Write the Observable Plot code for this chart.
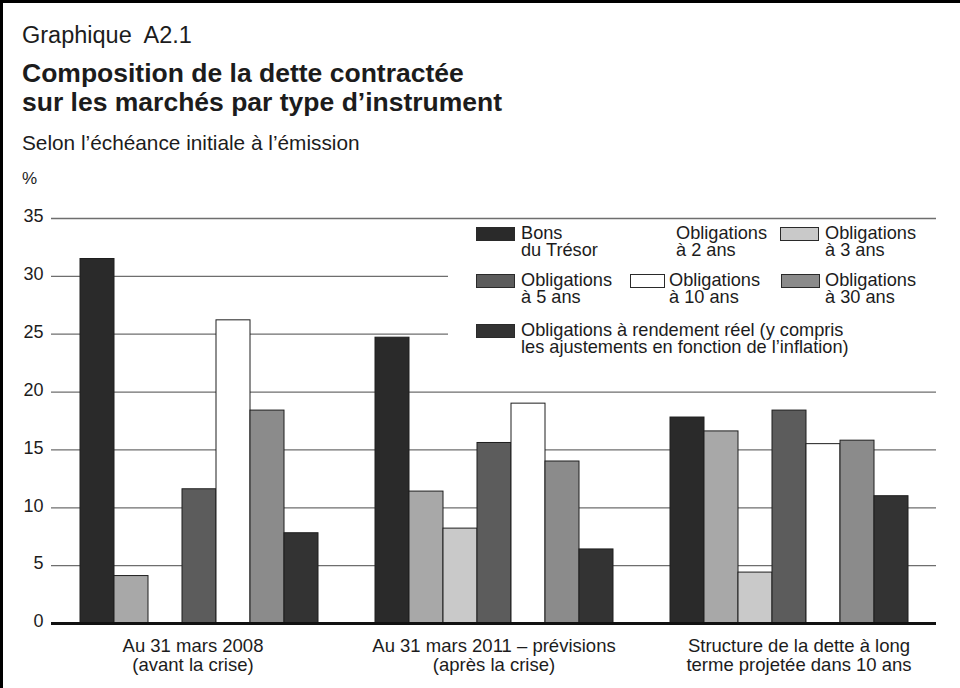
<!DOCTYPE html>
<html lang="fr">
<head>
<meta charset="utf-8">
<script src="https://cdn.jsdelivr.net/npm/d3@7"></script>
<script src="https://cdn.jsdelivr.net/npm/@observablehq/plot@0.6"></script>
<style>
  html, body { margin: 0; padding: 0; background: #fff; }
  body { width: 960px; height: 688px; position: relative; overflow: hidden;
         font-family: "Liberation Sans", Arial, Helvetica, sans-serif; color: #1c1c1c; }
  .frame { position: absolute; left: 0; top: 0; width: 960px; height: 688px;
           border-left: 3px solid #000; border-top: 3px solid #000; box-sizing: border-box; pointer-events: none; z-index: 5; }
  .t { position: absolute; left: 22px; white-space: pre; line-height: 1; }
  #chart { position: absolute; left: 0; top: 195px; }
  #legend { position: absolute; left: 448px; top: 222px; width: 492px; height: 162px; background: #fff; z-index: 3; }
  .sw { position: absolute; height: 14px; border: 1px solid #2a2a2a; box-sizing: border-box; }
  .lt { position: absolute; white-space: pre; font-size: 18.2px; line-height: 17px; color: #1c1c1c; }
</style>
</head>
<body>
<div class="frame"></div>
<div class="t" style="top:24px;font-size:23.5px;">Graphique  A2.1</div>
<div class="t" style="top:60px;font-size:26.5px;font-weight:bold;">Composition de la dette contractée</div>
<div class="t" style="top:89px;font-size:26.5px;font-weight:bold;">sur les marchés par type d’instrument</div>
<div class="t" style="top:133px;font-size:20.8px;">Selon l’échéance initiale à l’émission</div>
<div class="t" style="top:170px;font-size:17px;">%</div>
<div id="chart"></div>
<div id="legend"></div>
<script>
// ---- data ----
const groups = [
  "Au 31 mars 2008\n(avant la crise)",
  "Au 31 mars 2011 – prévisions\n(après la crise)",
  "Structure de la dette à long\nterme projetée dans 10 ans"
];
const series = [
  "Bons du Trésor",
  "Obligations à 2 ans",
  "Obligations à 3 ans",
  "Obligations à 5 ans",
  "Obligations à 10 ans",
  "Obligations à 30 ans",
  "Obligations à rendement réel"
];
const legendLabels = [
  "Bons\ndu Trésor",
  "Obligations\nà 2 ans",
  "Obligations\nà 3 ans",
  "Obligations\nà 5 ans",
  "Obligations\nà 10 ans",
  "Obligations\nà 30 ans",
  "Obligations à rendement réel (y compris\nles ajustements en fonction de l’inflation)"
];
const bonsTresor   = [31.5, 24.7, 17.8];
const oblig2ans    = [4.1, 11.4, 16.6];
const oblig3ans    = [null, 8.2, 4.4];
const oblig5ans    = [11.6, 15.6, 18.4];
const oblig10ans   = [26.2, 19.0, 15.5];
const oblig30ans   = [18.4, 14.0, 15.8];
const obligReel    = [7.8, 6.4, 11.0];
const yTicks = [0, 5, 10, 15, 20, 25, 30, 35];

// ---- styling (scale range) ----
const colors = ["#2a2a2a", "#a8a8a8", "#c9c9c9", "#5c5c5c", "#ffffff", "#8b8b8b", "#333333"];

const valuesBySeries = [bonsTresor, oblig2ans, oblig3ans, oblig5ans, oblig10ans, oblig30ans, obligReel];
const table = series.flatMap((s, i) =>
  groups.map((g, j) => ({group: g, series: s, value: valuesBySeries[i][j]}))
).filter(d => d.value != null);

// group labels under each facet (one text mark per facet so each can be nudged)
const fxLabelShift = [-6, 0, 10];
const groupLabels = groups.map((g, j) =>
  Plot.text([g], {
    fx: d => d, text: d => d, frameAnchor: "bottom", lineAnchor: "top",
    dy: 15, dx: fxLabelShift[j], fontSize: 18.5, lineHeight: 1.04, fill: "#1c1c1c"
  })
);

const chart = Plot.plot({
  width: 960,
  height: 493,
  marginLeft: 50,
  marginRight: 23,
  marginTop: 23,
  marginBottom: 65,
  style: {fontFamily: "'Liberation Sans', Arial, Helvetica, sans-serif", fontSize: "18px", color: "#1c1c1c", background: "transparent", overflow: "visible"},
  fx: {domain: groups, padding: 0, label: null, axis: null},
  x: {domain: series, paddingInner: 0, paddingOuter: 0.75, axis: null},
  y: {domain: [0, 35], label: null},
  color: {domain: series, range: colors},
  marks: [
    Plot.gridY(yTicks, {stroke: "#6e6e6e", strokeOpacity: 1, strokeWidth: 1.3}),
    Plot.axisY(yTicks, {tickSize: 0, tickPadding: 8, fontSize: 18, label: null, dy: -2}),
    Plot.barY(table, {fx: "group", x: "series", y: "value", fill: "series", stroke: "#1e1e1e", strokeWidth: 1}),
    Plot.ruleY([0], {stroke: "#111", strokeWidth: 3}),
    ...groupLabels
  ]
});
document.getElementById("chart").appendChild(chart);

// ---- legend (HTML overlay) ----
const legend = document.getElementById("legend");
const L0 = 448, T0 = 222;
const legendLayout = [
  {sx: 476, sw: 39, tx: 521, base: 240},
  {sx: null, sw: 0, tx: 676, base: 240},
  {sx: 780, sw: 39, tx: 825, base: 240},
  {sx: 476, sw: 39, tx: 521, base: 287},
  {sx: 630, sw: 35, tx: 669, base: 287},
  {sx: 781, sw: 39, tx: 825, base: 287},
  {sx: 476, sw: 39, tx: 521, base: 337}
];
legendLayout.forEach((p, i) => {
  if (p.sx != null) {
    const s = document.createElement("div");
    s.className = "sw";
    s.style.left = (p.sx - L0) + "px";
    s.style.top = (p.base - 13 - T0) + "px";
    s.style.width = p.sw + "px";
    s.style.background = colors[i];
    legend.appendChild(s);
  }
  const t = document.createElement("div");
  t.className = "lt";
  t.textContent = legendLabels[i];
  t.style.left = (p.tx - L0) + "px";
  t.style.top = (p.base - 14.8 - T0) + "px";
  legend.appendChild(t);
});
</script>
</body>
</html>
